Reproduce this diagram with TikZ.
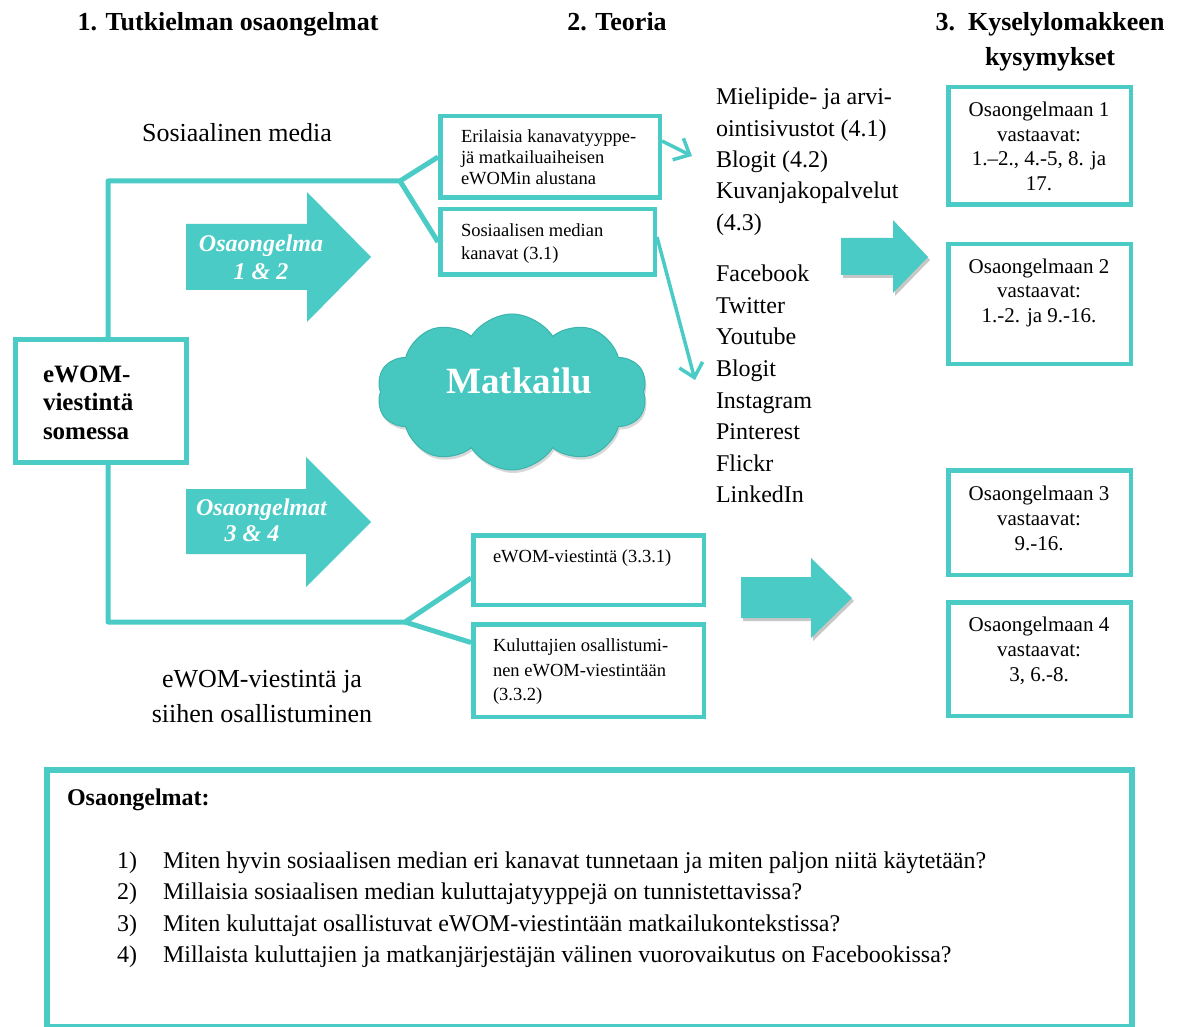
\documentclass[tikz,border=0pt]{standalone}
\usepackage{fontspec}
\setmainfont{Liberation Serif}
\usetikzlibrary{shapes.symbols,shadows,arrows.meta,backgrounds}
\definecolor{teal1}{RGB}{75,203,197}
\definecolor{cloudc}{RGB}{70,200,192}
\definecolor{cloude}{RGB}{58,180,172}
\newcommand{\fsz}[1]{\fontsize{#1pt}{#1pt}\selectfont}
\begin{document}
\begin{tikzpicture}[x=1pt,y=-1pt,
  box/.style={draw=teal1, line width=4.5pt, fill=white, inner sep=0pt, rectangle},
  conn/.style={draw=teal1, line width=5pt, line join=round},
  thinarr/.style={draw=teal1, line width=3.5pt, -{Straight Barb[length=13pt,width=24pt]}},
  txt/.style={inner sep=0pt, outer sep=0pt},
  hdr/.style={txt, font=\fsz{26}\bfseries},
  lbl/.style={txt, font=\fsz{26}},
  lst/.style={txt, font=\fsz{24}},
  sm/.style={txt, font=\fsz{18.5}},
  rb/.style={txt, font=\fsz{21}},
  bt/.style={txt, font=\fsz{25}\bfseries},
  arrtxt/.style={txt, font=\fsz{24}\bfseries\itshape, text=white},
  blk/.style={fill=teal1},
  shd/.style={fill=black!22}
]
\useasboundingbox (0,0) rectangle (1184,1027);
\clip (0,0) rectangle (1184,1027);

% headers
\node[hdr, anchor=base] (h1) at (228,31) {1. Tutkielman osaongelmat};
\node[hdr, anchor=base] (h2) at (617,31) {2. Teoria};
\node[hdr, anchor=base] (h3a) at (1050,31) {3.\ \ Kyselylomakkeen};
\node[hdr, anchor=base] (h3b) at (1050,66) {kysymykset};

% side labels
\node[lbl, anchor=base] (sm1) at (237,142) {Sosiaalinen media};
\node[lbl, anchor=base] (ew1l) at (262,687) {eWOM-viestintä ja};
\node[lbl, anchor=base] (ew2l) at (262,722) {siihen osallistuminen};

% main box
\node[box, line width=5pt, minimum width=171pt, minimum height=123pt] (ewom) at (101,401) {};
\node[bt, anchor=base west] (ewt1) at (43,382) {eWOM-};
\node[bt, anchor=base west] (ewt2) at (43,410) {viestintä};
\node[bt, anchor=base west] (ewt3) at (43,439) {somessa};

% theory boxes
\node[box, minimum width=219.5pt, minimum height=81.5pt] (b1) at (550,157) {};
\node[box, minimum width=214.5pt, minimum height=65.5pt] (b2) at (547.5,242) {};
\node[box, minimum width=230.5pt, minimum height=69.5pt] (b3) at (588.5,570) {};
\node[box, minimum width=230.5pt, minimum height=92.5pt] (b4) at (588.5,670.5) {};

\node[sm, anchor=base west] (b1t1) at (461,143) {Erilaisia kanavatyyppe-};
\node[sm, anchor=base west] (b1t2) at (461,164) {jä matkailuaiheisen};
\node[sm, anchor=base west] (b1t3) at (461,185) {eWOMin alustana};
\node[sm, anchor=base west] (b2t1) at (461,237) {Sosiaalisen median};
\node[sm, anchor=base west] (b2t2) at (461,259.5) {kanavat (3.1)};
\node[sm, anchor=base west] (b3t1) at (493,562.5) {eWOM-viestintä (3.3.1)};
\node[sm, anchor=base west] (b4t1) at (493,651.5) {Kuluttajien osallistumi-};
\node[sm, anchor=base west] (b4t2) at (493,676) {nen eWOM-viestintään};
\node[sm, anchor=base west] (b4t3) at (493,700) {(3.3.2)};

% answer boxes
\node[box, minimum width=182.5pt, minimum height=117.5pt] (r1) at (1039.5,146) {};
\node[box, minimum width=182.5pt, minimum height=119.5pt] (r2) at (1039.5,304) {};
\node[box, minimum width=182.5pt, minimum height=104.5pt] (r3) at (1039.5,522.5) {};
\node[box, minimum width=182.5pt, minimum height=113.5pt] (r4) at (1039.5,659) {};

\node[rb, anchor=base] (r1a) at (1039,117) {Osaongelmaan 1};
\node[rb, anchor=base] (r1b) at (1039,141.5) {vastaavat:};
\node[rb, anchor=base] (r1c) at (1039,166) {1.–2., 4.-5, 8. ja};
\node[rb, anchor=base] (r1d) at (1039,190.5) {17.};
\node[rb, anchor=base] (r2a) at (1039,273.5) {Osaongelmaan 2};
\node[rb, anchor=base] (r2b) at (1039,298) {vastaavat:};
\node[rb, anchor=base] (r2c) at (1039,322) {1.-2. ja 9.-16.};
\node[rb, anchor=base] (r3a) at (1039,500) {Osaongelmaan 3};
\node[rb, anchor=base] (r3b) at (1039,525) {vastaavat:};
\node[rb, anchor=base] (r3c) at (1039,550.5) {9.-16.};
\node[rb, anchor=base] (r4a) at (1039,631.5) {Osaongelmaan 4};
\node[rb, anchor=base] (r4b) at (1039,656.5) {vastaavat:};
\node[rb, anchor=base] (r4c) at (1039,681.5) {3, 6.-8.};

% theory lists
\foreach \t [count=\i] in {Mielipide- ja arvi-, ointisivustot (4.1), Blogit (4.2), Kuvanjakopalvelut, (4.3)}
  \node[lst, anchor=base west] (la\i) at (716,{105+31.3*(\i-1)}) {\t};
\foreach \t [count=\i] in {Facebook, Twitter, Youtube, Blogit, Instagram, Pinterest, Flickr, LinkedIn}
  \node[lst, anchor=base west] (lb\i) at (716,{281.7+31.6*(\i-1)}) {\t};

% connectors (behind boxes)
\coordinate (vt) at (108,181);
\coordinate (jt) at (400,181);
\coordinate (vb) at (108,622);
\coordinate (jb) at (405,622);
\begin{scope}[on background layer]
  \fill[white] (0,0) rectangle (1184,1027);
  \draw[conn] (ewom.north -| vt) -- (vt) -- (jt) -- (b1.west);
  \draw[conn] (jt) -- (b2.west);
  \draw[conn] (ewom.south -| vb) -- (vb) -- (jb) -- ([yshift=-8pt]b3.west);
  \draw[conn] (jb) -- ([yshift=28pt]b4.west);
\end{scope}

% thin arrows
\coordinate (a1) at (692,156);
\coordinate (a2) at (695,380);
\draw[thinarr] ([yshift=16pt]b1.east) -- (a1);
\draw[thinarr] ([yshift=5pt]b2.east) -- (a2);

% block arrows
\fill[blk] (186,224) -- (307,224) -- (307,192) -- (371,257) -- (307,322) -- (307,290) -- (186,290) -- cycle;
\fill[blk] (186,489) -- (306,489) -- (306,457) -- (371,522) -- (306,587) -- (306,554) -- (186,554) -- cycle;
\fill[shd, shift={(2,3)}] (841,238) -- (893,238) -- (893,220) -- (928,257) -- (893,293) -- (893,275) -- (841,275) -- cycle;
\fill[blk] (841,238) -- (893,238) -- (893,220) -- (928,257) -- (893,293) -- (893,275) -- (841,275) -- cycle;
\fill[shd, shift={(2,3)}] (741,577) -- (811,577) -- (811,558) -- (852,598) -- (811,638) -- (811,618) -- (741,618) -- cycle;
\fill[blk] (741,577) -- (811,577) -- (811,558) -- (852,598) -- (811,638) -- (811,618) -- (741,618) -- cycle;

\node[arrtxt, anchor=base] (ar1a) at (261,251.7) {Osaongelma};
\node[arrtxt, anchor=base] (ar1b) at (261,279.3) {1 \& 2};
\node[arrtxt, anchor=base] (ar2a) at (261.5,515) {Osaongelmat};
\node[arrtxt, anchor=base] (ar2b) at (252,541.7) {3 \& 4};

% cloud
\node[cloud, cloud puffs=10, cloud puff arc=115, aspect=1.75, fill=cloudc, draw=cloude, line width=1pt,
      minimum width=270pt, minimum height=156pt,
      drop shadow={shadow xshift=1.5pt, shadow yshift=-3pt, opacity=0.3}] (cl) at (512,392) {};
\node[txt, font=\fsz{37}\bfseries, text=white, anchor=base] (mk) at (519.5,393) {Matkailu};

% bottom box
\node[box, line width=6pt, minimum width=1085pt, minimum height=257pt] (bq) at (589.5,898.5) {};
\node[txt, font=\fsz{24}\bfseries, anchor=base west] (bqh) at (67,805) {Osaongelmat:};
\foreach \t [count=\i] in {Miten hyvin sosiaalisen median eri kanavat tunnetaan ja miten paljon niitä käytetään?,
  Millaisia sosiaalisen median kuluttajatyyppejä on tunnistettavissa?,
  Miten kuluttajat osallistuvat eWOM-viestintään matkailukontekstissa?,
  Millaista kuluttajien ja matkanjärjestäjän välinen vuorovaikutus on Facebookissa?}
{
  \node[lst, anchor=base west] (qn\i) at (117,{868+31.6*(\i-1)}) {\i)};
  \node[lst, anchor=base west] (qt\i) at (163,{868+31.6*(\i-1)}) {\t};
}
\end{tikzpicture}
\end{document}
